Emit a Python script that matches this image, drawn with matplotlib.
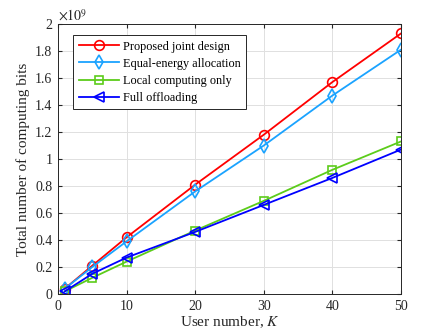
import matplotlib.pyplot as plt

plt.rcParams["font.family"] = "Liberation Serif"
plt.rcParams["mathtext.fontset"] = "stix"

users = [1, 5, 10, 20, 30, 40, 50]
proposed = [0.04, 0.21, 0.42, 0.81, 1.18, 1.57, 1.93]
equal_energy = [0.04, 0.20, 0.39, 0.76, 1.10, 1.47, 1.81]
local_only = [0.02, 0.12, 0.24, 0.47, 0.69, 0.92, 1.13]
full_offload = [0.02, 0.15, 0.27, 0.46, 0.66, 0.86, 1.07]

series = [
    ("Proposed joint design", proposed, "#ff0000", "o", 7),
    ("Equal-energy allocation", equal_energy, "#1aa3ff", "d", 7),
    ("Local computing only", local_only, "#5ccc1a", "s", 6),
    ("Full offloading", full_offload, "#0000ff", "<", 7),
]


def main():
    fig = plt.figure(figsize=(4.43, 3.32), dpi=100)
    ax = fig.add_axes([58 / 443, 1 - 294 / 332, 343 / 443, 270 / 332])

    for label, vals, color, marker, ms in series:
        ax.plot(users, [v * 1e9 for v in vals], color=color, marker=marker,
                markersize=ms, markerfacecolor="none", markeredgewidth=1.2,
                linewidth=1.3, label=label)

    ax.set_xlim(0, 50)
    ax.set_ylim(0, 2e9)
    ax.set_xticks(range(0, 51, 10))
    ax.set_yticks([i * 0.2e9 for i in range(11)])
    ax.set_yticklabels(["0", "0.2", "0.4", "0.6", "0.8", "1", "1.2", "1.4",
                        "1.6", "1.8", "2"])
    ax.text(0.0, 1.0, r"$\times 10^9$", transform=ax.transAxes,
            fontsize=10, ha="left", va="bottom", color="#262626")
    ax.grid(True, color="#e0e0e0", linewidth=0.7)
    ax.tick_params(direction="in", labelsize=10, colors="#262626",
                   top=True, right=True, length=3, pad=4)
    for s in ax.spines.values():
        s.set_color("#262626")
        s.set_linewidth(0.7)
    ax.set_xlabel(r"User number, $K$", fontsize=11, color="#262626",
                  labelpad=1)
    ax.set_ylabel("Total number of computing bits", fontsize=11,
                  color="#262626")

    leg = ax.legend(loc="upper left", bbox_to_anchor=(0.044, 0.959),
                    borderaxespad=0, fontsize=8.8, fancybox=False,
                    edgecolor="#262626", framealpha=1, handlelength=3.3,
                    borderpad=0.45, labelspacing=0.42, handletextpad=0.3)
    leg.get_frame().set_linewidth(0.7)

    fig.savefig("out.png", dpi=100)
    plt.close(fig)


if __name__ == "__main__":
    main()
